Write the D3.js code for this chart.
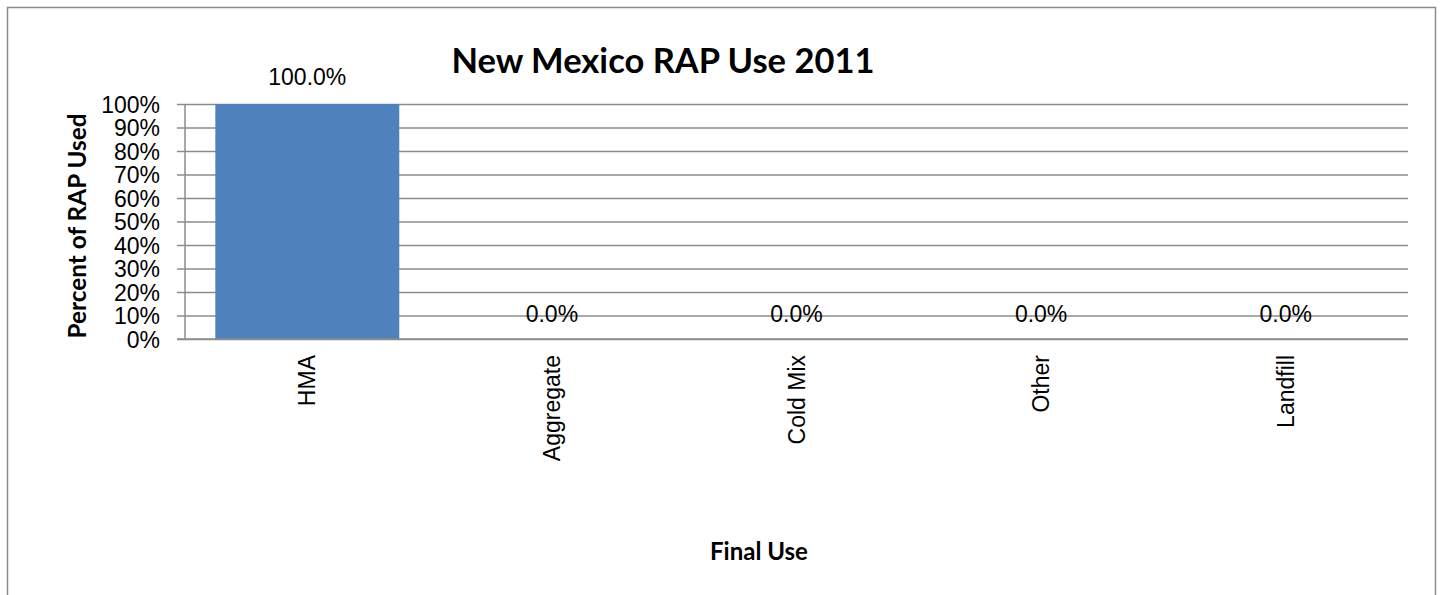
<!DOCTYPE html>
<html><head><meta charset="utf-8">
<script src="https://cdn.jsdelivr.net/npm/d3@7"></script>
<style>html,body{margin:0;padding:0;background:#fff;overflow:hidden}</style>
</head><body>
<svg id="c" width="1443" height="595"></svg>
<script>
const categories = ["HMA", "Aggregate", "Cold Mix", "Other", "Landfill"];
const values = [100.0, 0.0, 0.0, 0.0, 0.0];
const yTicks = [0, 10, 20, 30, 40, 50, 60, 70, 80, 90, 100];
const titleText = "New Mexico RAP Use 2011";
const yTitle = "Percent of RAP Used";
const xTitle = "Final Use";

const svg = d3.select("#c");
const m = {left: 185, right: 1408, top: 104, bottom: 339};
const font = "'Liberation Sans', Arial, sans-serif";
const bold = "Lato, 'Open Sans', sans-serif";
const fs = 23;

// chart frame
svg.append("rect").attr("x", 7.5).attr("y", 7.5).attr("width", 1428).attr("height", 600)
  .attr("fill", "#fff").attr("stroke", "#8c8c8c").attr("stroke-width", 1.5);

const x = d3.scaleBand().domain(categories).range([m.left, m.right]).paddingInner(0.248).paddingOuter(0.124);
const y = d3.scaleLinear().domain([0, 100]).range([m.bottom, m.top]);

// gridlines + y axis
const yAxis = d3.axisLeft(y).tickValues(yTicks).tickFormat(d => d + "%").tickSize(-(m.right - m.left));
const gy = svg.append("g").attr("transform", `translate(${m.left},0)`).call(yAxis);
gy.select(".domain").remove();
gy.selectAll(".tick line").attr("stroke", "#8c8c8c").attr("stroke-width", 1.5).attr("x1", -8);
gy.selectAll(".tick text").attr("font-family", font).attr("font-size", fs).attr("fill", "#000").attr("x", -25).attr("dy", "0.36em");
svg.append("line").attr("x1", m.left).attr("x2", m.left).attr("y1", m.top).attr("y2", m.bottom)
  .attr("stroke", "#8c8c8c").attr("stroke-width", 1.5);

// bars
svg.append("g").selectAll("rect").data(categories).join("rect")
  .attr("x", d => x(d)).attr("width", x.bandwidth())
  .attr("y", (d, i) => y(values[i])).attr("height", (d, i) => y(0) - y(values[i]))
  .attr("fill", "#4f81bd");

// baseline on top
svg.append("line").attr("x1", m.left - 8).attr("x2", m.right).attr("y1", y(0)).attr("y2", y(0))
  .attr("stroke", "#8c8c8c").attr("stroke-width", 1.5);

// data labels
svg.append("g").selectAll("text").data(categories).join("text")
  .attr("x", d => x(d) + x.bandwidth() / 2)
  .attr("y", (d, i) => values[i] > 0 ? y(values[i]) - 19 : y(0) - 17)
  .attr("text-anchor", "middle").attr("font-family", font).attr("font-size", fs).attr("fill", "#000")
  .text((d, i) => values[i].toFixed(1) + "%");

// x category labels (rotated)
svg.append("g").selectAll("text").data(categories).join("text")
  .attr("transform", d => `translate(${x(d) + x.bandwidth() / 2 + 8},${y(0) + 16}) rotate(-90)`)
  .attr("text-anchor", "end").attr("font-family", font).attr("font-size", fs).attr("fill", "#000")
  .text(d => d);

// title
const t = svg.append("text").attr("x", 663).attr("y", 73).attr("text-anchor", "middle")
  .attr("font-family", bold).attr("font-weight", "bold").attr("font-size", 42).attr("fill", "#000").text(titleText);
const tw = t.node().getComputedTextLength();
t.attr("font-size", 42 * 423 / tw);

// y title
const yt = svg.append("text").attr("transform", "translate(86,226) rotate(-90)").attr("text-anchor", "middle")
  .attr("font-family", bold).attr("font-weight", "bold").attr("font-size", 20).attr("fill", "#000").text(yTitle);
const yw = yt.node().getComputedTextLength();
yt.attr("font-size", 20 * 225 / yw);

// x title
const xt = svg.append("text").attr("x", 759).attr("y", 560).attr("text-anchor", "middle")
  .attr("font-family", bold).attr("font-weight", "bold").attr("font-size", 20).attr("fill", "#000").text(xTitle);
const xw = xt.node().getComputedTextLength();
xt.attr("font-size", 20 * 98 / xw);
</script>
</body></html>
